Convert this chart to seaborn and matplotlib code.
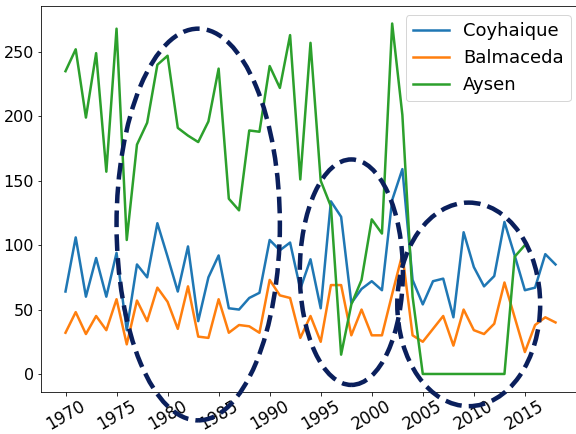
import matplotlib
matplotlib.use("Agg")
import matplotlib.pyplot as plt
import seaborn as sns
import pandas as pd
from matplotlib.patches import Ellipse

years = list(range(1970, 2019))

coyhaique = [64, 106, 60, 90, 60, 94, 34, 85, 75, 117,
             91, 64, 99, 41, 75, 92, 51, 50, 59, 63,
             104, 96, 102, 66, 89, 51, 134, 122, 55, 66,
             72, 65, 135, 159, 73, 54, 72, 74, 44, 110,
             83, 68, 76, 118, 92, 65, 67, 93, 85]

balmaceda = [32, 48, 31, 45, 34, 58, 23, 57, 41, 67,
             56, 35, 68, 29, 28, 58, 32, 38, 37, 32,
             73, 61, 59, 28, 45, 25, 69, 69, 30, 50,
             30, 30, 62, 93, 30, 25, 35, 45, 22, 50,
             34, 31, 39, 71, 44, 17, 38, 44, 40]

aysen = [235, 252, 199, 249, 157, 268, 104, 178, 195, 240,
         247, 191, 185, 180, 196, 237, 136, 127, 189, 188,
         239, 222, 263, 151, 257, 150, 130, 15, 54, 73,
         120, 109, 272, 201, 60, 0, 0, 0, 0, 0,
         0, 0, 0, 0, 91, 100]

series_names = ["Coyhaique", "Balmaceda", "Aysen"]
x_ticks = [1970, 1975, 1980, 1985, 1990, 1995, 2000, 2005, 2010, 2015]
y_ticks = [0, 50, 100, 150, 200, 250]

# highlighted regions: (center year, center value, width in years, height in values)
highlight_regions = [(1983, 116, 16, 304), (1998, 79, 10.1, 175), (2009.5, 54, 14, 158)]

W, H = 576, 434
fig = plt.figure(figsize=(W / 72, H / 72), dpi=72)
ax = fig.add_axes([41 / W, 42.5 / H, 539 / W, 385.5 / H])

palette = sns.color_palette("tab10")
for name, vals, c in zip(series_names, [coyhaique, balmaceda, aysen], palette):
    df = pd.DataFrame({"year": years[:len(vals)], "value": vals})
    sns.lineplot(data=df, x="year", y="value", ax=ax, color=c, label=name, linewidth=2.5)

xlim = ax.get_xlim()
ylim = ax.get_ylim()

for (cx, cy, w, h) in highlight_regions:
    e = Ellipse((cx, cy), w, h, fill=False, edgecolor="#0a1f5c", linewidth=4.5,
                linestyle="--", clip_on=False, zorder=10)
    ax.add_artist(e)

ax.set_xlim(xlim)
ax.set_ylim(ylim)
ax.set_xticks(x_ticks)
ax.set_yticks(y_ticks)
ax.set_xlabel("")
ax.set_ylabel("")
ax.tick_params(axis="y", labelsize=16)
ax.tick_params(axis="x", labelsize=16.5, pad=2)
plt.setp(ax.get_xticklabels(), rotation=30)
ax.legend(loc="upper right", fontsize=18)

fig.savefig("out.png", dpi=72)
